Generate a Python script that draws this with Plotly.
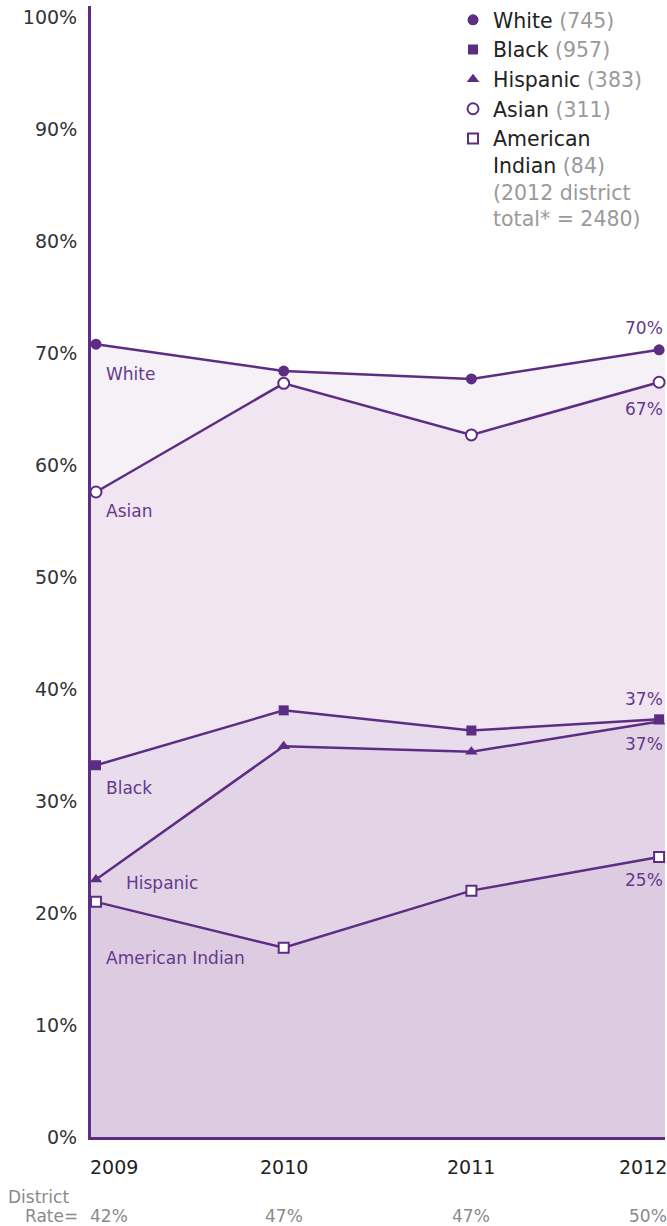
import plotly.graph_objects as go

# Graduation rates by student group, 2009-2012
years = [2009, 2010, 2011, 2012]
white = [70.8, 68.4, 67.7, 70.3]
asian = [57.6, 67.3, 62.7, 67.4]
black = [33.2, 38.1, 36.3, 37.3]
hispanic = [23.0, 34.9, 34.4, 37.1]
american_indian = [21.0, 16.9, 22.0, 25.0]

district_rate = ["42%", "47%", "47%", "50%"]
y_ticks = [0, 10, 20, 30, 40, 50, 60, 70, 80, 90, 100]
y_ticktext = [f"{v}%" for v in y_ticks]

legend_counts = {"White": 745, "Black": 957, "Hispanic": 383, "Asian": 311, "American Indian": 84}
district_total = 2480

PURPLE = "#5c2d83"
LABEL_PURPLE = "#643a8c"
FONT = "DejaVu Sans"
X_RANGE = [2008.9734, 2012.0314]

series = [
    # name, values, fill colour, marker symbol, hollow marker
    ("White", white, "#f6f0f7", "circle", False),
    ("Asian", asian, "#f0e5f1", "circle", True),
    ("Black", black, "#e9dcec", "square", False),
    ("Hispanic", hispanic, "#e3d3e7", "triangle-up", False),
    ("American Indian", american_indian, "#ddcbe2", "square", True),
]

fig = go.Figure()

# Filled areas first, highest series at the back; each band runs out to the axis edges
for name, vals, fillc, sym, hollow in series:
    fig.add_trace(go.Scatter(
        x=[X_RANGE[0]] + years + [X_RANGE[1]],
        y=[vals[0]] + vals + [vals[-1]],
        mode="none", fill="tozeroy", fillcolor=fillc,
        showlegend=False, hoverinfo="skip",
    ))

# Lines and markers on top
for name, vals, fillc, sym, hollow in series:
    size = 11 if sym != "square" else 10
    fig.add_trace(go.Scatter(
        x=years, y=vals, mode="lines+markers",
        line=dict(color=PURPLE, width=2.5),
        marker=dict(symbol=sym, size=size,
                    color="white" if hollow else PURPLE,
                    line=dict(color=PURPLE, width=2 if hollow else 0)),
        showlegend=False, cliponaxis=False, name=name,
    ))

# Legend entries (markers only)
legend_order = ["White", "Black", "Hispanic", "Asian", "American Indian"]
sym_map = {s[0]: (s[3], s[4]) for s in series}
gray = "#9a9a9a"
for name in legend_order:
    sym, hollow = sym_map[name]
    if name == "American Indian":
        text = (f"American<br>Indian <span style='color:{gray}'>({legend_counts[name]})</span>"
                f"<br><span style='color:{gray}'>(2012 district</span>"
                f"<br><span style='color:{gray}'>total* = {district_total})</span>")
    else:
        text = f"{name} <span style='color:{gray}'>({legend_counts[name]})</span>"
    fig.add_trace(go.Scatter(
        x=[None], y=[None], mode="markers", name=text,
        marker=dict(symbol=sym, size=11 if sym != "square" else 10,
                    color="white" if hollow else PURPLE,
                    line=dict(color=PURPLE, width=2 if hollow else 0)),
        showlegend=True,
    ))

annotations = []

# End-of-line value labels for 2012
end_labels = [(white, 22), (asian, -27), (black, 20), (hispanic, -22), (american_indian, -23)]
for vals, shift in end_labels:
    annotations.append(dict(
        x=years[-1], y=vals[-1], xref="x", yref="y", text=f"{round(vals[-1])}%",
        showarrow=False, xanchor="right", yanchor="middle", xshift=6, yshift=shift,
        font=dict(family=FONT, size=17, color=LABEL_PURPLE),
    ))

# Series names near the 2009 points
name_labels = [("White", white, 8, -30), ("Asian", asian, 8, -19), ("Black", black, 8, -23),
               ("Hispanic", hispanic, 28, -4), ("American Indian", american_indian, 8, -56)]
for text, vals, xs, ys in name_labels:
    annotations.append(dict(
        x=years[0], y=vals[0], xref="x", yref="y", text=text, showarrow=False,
        xanchor="left", yanchor="middle", xshift=xs, yshift=ys,
        font=dict(family=FONT, size=17, color=LABEL_PURPLE),
    ))

# Year labels and district rates under the axis
for i, (yr, rate) in enumerate(zip(years, district_rate)):
    if i == 0:
        anchor, xs = "left", -8
    elif i == len(years) - 1:
        anchor, xs = "right", 10
    else:
        anchor, xs = "center", 0
    annotations.append(dict(
        x=yr, y=0, xref="x", yref="paper", text=str(yr), showarrow=False,
        xanchor=anchor, yanchor="middle", xshift=xs, yshift=-30,
        font=dict(family=FONT, size=19, color="#222222"),
    ))
    annotations.append(dict(
        x=yr, y=0, xref="x", yref="paper", text=rate, showarrow=False,
        xanchor=anchor, yanchor="middle", xshift=xs, yshift=-79,
        font=dict(family=FONT, size=17, color="#8a8a8a"),
    ))

annotations.append(dict(
    x=0, y=0, xref="paper", yref="paper", text="District", showarrow=False,
    xanchor="left", yanchor="middle", xshift=-85, yshift=-60,
    font=dict(family=FONT, size=17, color="#8a8a8a"),
))
annotations.append(dict(
    x=0, y=0, xref="paper", yref="paper", text="Rate=", showarrow=False,
    xanchor="right", yanchor="middle", xshift=-11, yshift=-79,
    font=dict(family=FONT, size=17, color="#8a8a8a"),
))

fig.update_layout(
    width=667, height=1226,
    margin=dict(l=91, r=2, t=6, b=89, autoexpand=False),
    paper_bgcolor="white", plot_bgcolor="white",
    font=dict(family=FONT, color="#333333"),
    xaxis=dict(range=X_RANGE, showgrid=False, zeroline=False,
               showline=True, linecolor=PURPLE, linewidth=3, showticklabels=False,
               ticks=""),
    yaxis=dict(range=[0, 101], showgrid=False, zeroline=False, showline=True,
               linecolor=PURPLE, linewidth=3, tickvals=y_ticks, ticktext=y_ticktext,
               ticks="", ticklabelstandoff=7,
               tickfont=dict(family=FONT, size=19, color="#333333")),
    legend=dict(x=0.6307, y=1.0012, xanchor="left", yanchor="top", valign="top",
                yref="container",
                bgcolor="rgba(0,0,0,0)", borderwidth=0,
                font=dict(family=FONT, size=20.5, color="#222222"),
                itemwidth=30, tracegroupgap=0),
    annotations=annotations,
    showlegend=True,
)

fig.write_html("out.html")
